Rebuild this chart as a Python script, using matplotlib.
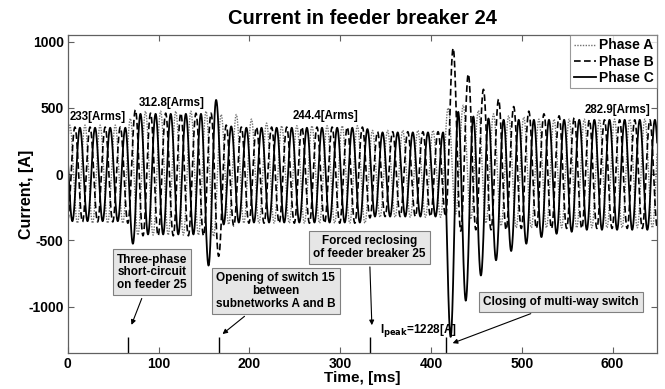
import numpy as np
import matplotlib
matplotlib.use("Agg")
import matplotlib.pyplot as plt

plt.rcParams["font.family"] = ["Liberation Sans", "DejaVu Sans"]
plt.rcParams["font.weight"] = "bold"
plt.rcParams["axes.unicode_minus"] = False

# 60 Hz waveform, extrema read per cycle (k = 0..40)
PERIOD = 1000 / 60
# time of first trough of each phase [ms]
t0_a, t0_b, t0_c = -6.1, -0.55, -11.67

# Phase A (dotted)
a_troughs = [-370] * 5 + [-460] * 5 + [-470] + [-380] + [-370] * 9 + [-325] * 5 \
    + [-300, -340, -370, -390] + [-405] * 11
a_peaks = [370] * 4 + [420] + [475] * 5 + [450, 450, 415, 385] + [365] * 6 + [330] * 5 \
    + [500, 520, 480, 455, 440, 430] + [415] * 10

# Phase B (dashed)
b_troughs = [-360] * 4 + [-370] + [-465] * 5 + [-620, -390] + [-370] * 8 + [-330] \
    + [-320] * 5 + [-430, -420, -420, -420] + [-410] * 11
b_peaks = [355] * 4 + [485] + [460] * 5 + [370] + [355] * 9 + [320] * 5 \
    + [950, 755, 640, 565, 510, 475, 455, 440, 425] + [410] * 7

# Phase C (solid)
c_troughs = [-355] * 5 + [-525] + [-455] * 4 + [-690, -380] + [-365] * 9 + [-320] * 5 \
    + [-1228, -955, -765, -650, -580, -525, -475, -450, -435] + [-420] * 6
c_peaks = [350] * 5 + [455] * 5 + [560, 360] + [350] * 8 + [340] + [315] * 5 \
    + [470, 435, 420] + [410] * 12

event_times = [66.5, 166.5, 333, 416.5]
rms_labels = ["233[Arms]", "312.8[Arms]", "244.4[Arms]", "282.9[Arms]"]
rms_x = [2, 78, 248, 569]
rms_y = [432, 540, 440, 485]


def build_wave(t0, troughs, peaks, n_seg=40):
    tk, vk = [], []
    for k in range(len(troughs)):
        tk += [t0 + k * PERIOD, t0 + (k + 0.5) * PERIOD]
        vk += [troughs[k], peaks[k]]
    s = np.linspace(0, 1, n_seg, endpoint=False)
    w = (1 - np.cos(np.pi * s)) / 2
    tt, vv = [], []
    for i in range(len(tk) - 1):
        tt.append(tk[i] + (tk[i + 1] - tk[i]) * s)
        vv.append(vk[i] + (vk[i + 1] - vk[i]) * w)
    return np.concatenate(tt), np.concatenate(vv)


fig = plt.figure(figsize=(6.65, 3.89), dpi=100)
ax = fig.add_axes([0.102, 0.0925, 0.886, 0.8175])

ta, ia = build_wave(t0_a, a_troughs, a_peaks)
tb, ib = build_wave(t0_b, b_troughs, b_peaks)
tc, ic = build_wave(t0_c, c_troughs, c_peaks)
ax.plot(ta, ia, ls=(0, (1, 1)), color="#707070", lw=1.0, label="Phase A")
ax.plot(tb, ib, ls=(0, (4, 2)), color="black", lw=1.2, label="Phase B")
ax.plot(tc, ic, "-", color="black", lw=1.3, label="Phase C")

ax.set_xlim(0, 649)
ax.set_ylim(-1350, 1050)
ax.set_xticks([0, 100, 200, 300, 400, 500, 600])
ax.set_yticks([-1000, -500, 0, 500, 1000])
ax.tick_params(direction="in", top=True, right=True, length=4, width=0.8,
               color="#606060", labelsize=10, pad=3)
for sp in ax.spines.values():
    sp.set_color("#606060")
    sp.set_linewidth(0.9)

ax.set_title("Current in feeder breaker 24", fontsize=14.5, fontweight="bold", pad=8)
ax.set_xlabel("Time, [ms]", fontsize=11, fontweight="bold", labelpad=0)
ax.set_ylabel("Current, [A]", fontsize=11.5, fontweight="bold", labelpad=-4)

leg = ax.legend(loc="upper right", fontsize=10, frameon=True, fancybox=False,
                borderaxespad=0, handlelength=1.6, handletextpad=0.2,
                labelspacing=0.15, borderpad=0.25)
leg.get_frame().set_edgecolor("#808080")
leg.get_frame().set_linewidth(0.8)
for txt in leg.get_texts():
    txt.set_fontweight("bold")

for lbl, x, y in zip(rms_labels, rms_x, rms_y):
    ax.text(x, y, lbl, fontsize=8.3, fontweight="bold", ha="left", va="center")

# event markers on the time axis
ax.vlines(event_times, -1350, -1230, color="black", lw=1.0)

box = dict(boxstyle="square,pad=0.35", fc="#e6e6e6", ec="#808080", lw=0.8)
arrow = dict(arrowstyle="-|>", color="black", lw=0.8, mutation_scale=7)

ax.annotate("Three-phase\nshort-circuit\non feeder 25", xy=(69, -1157), xytext=(92.6, -742),
            ha="center", va="center", fontsize=8.5, fontweight="bold", bbox=box,
            arrowprops=arrow, linespacing=1.1)
ax.annotate("Opening of switch 15\nbetween\nsubnetworks A and B", xy=(168, -1220),
            xytext=(229, -883), ha="center", va="center", fontsize=8.5, fontweight="bold",
            bbox=box, arrowprops=arrow, linespacing=1.1)
ax.annotate("Forced reclosing\nof feeder breaker 25", xy=(335, -1161), xytext=(332, -551),
            ha="center", va="center", fontsize=8.5, fontweight="bold", bbox=box,
            arrowprops=arrow, linespacing=1.1)
ax.annotate("Closing of multi-way switch", xy=(421, -1283), xytext=(543.5, -966),
            ha="center", va="center", fontsize=8.5, fontweight="bold", bbox=box,
            arrowprops=arrow)
ax.text(344, -1182, r"I$_{\mathbf{peak}}$=1228[A]", fontsize=8.5, fontweight="bold",
        ha="left", va="center")

fig.savefig("out.png", dpi=100)
